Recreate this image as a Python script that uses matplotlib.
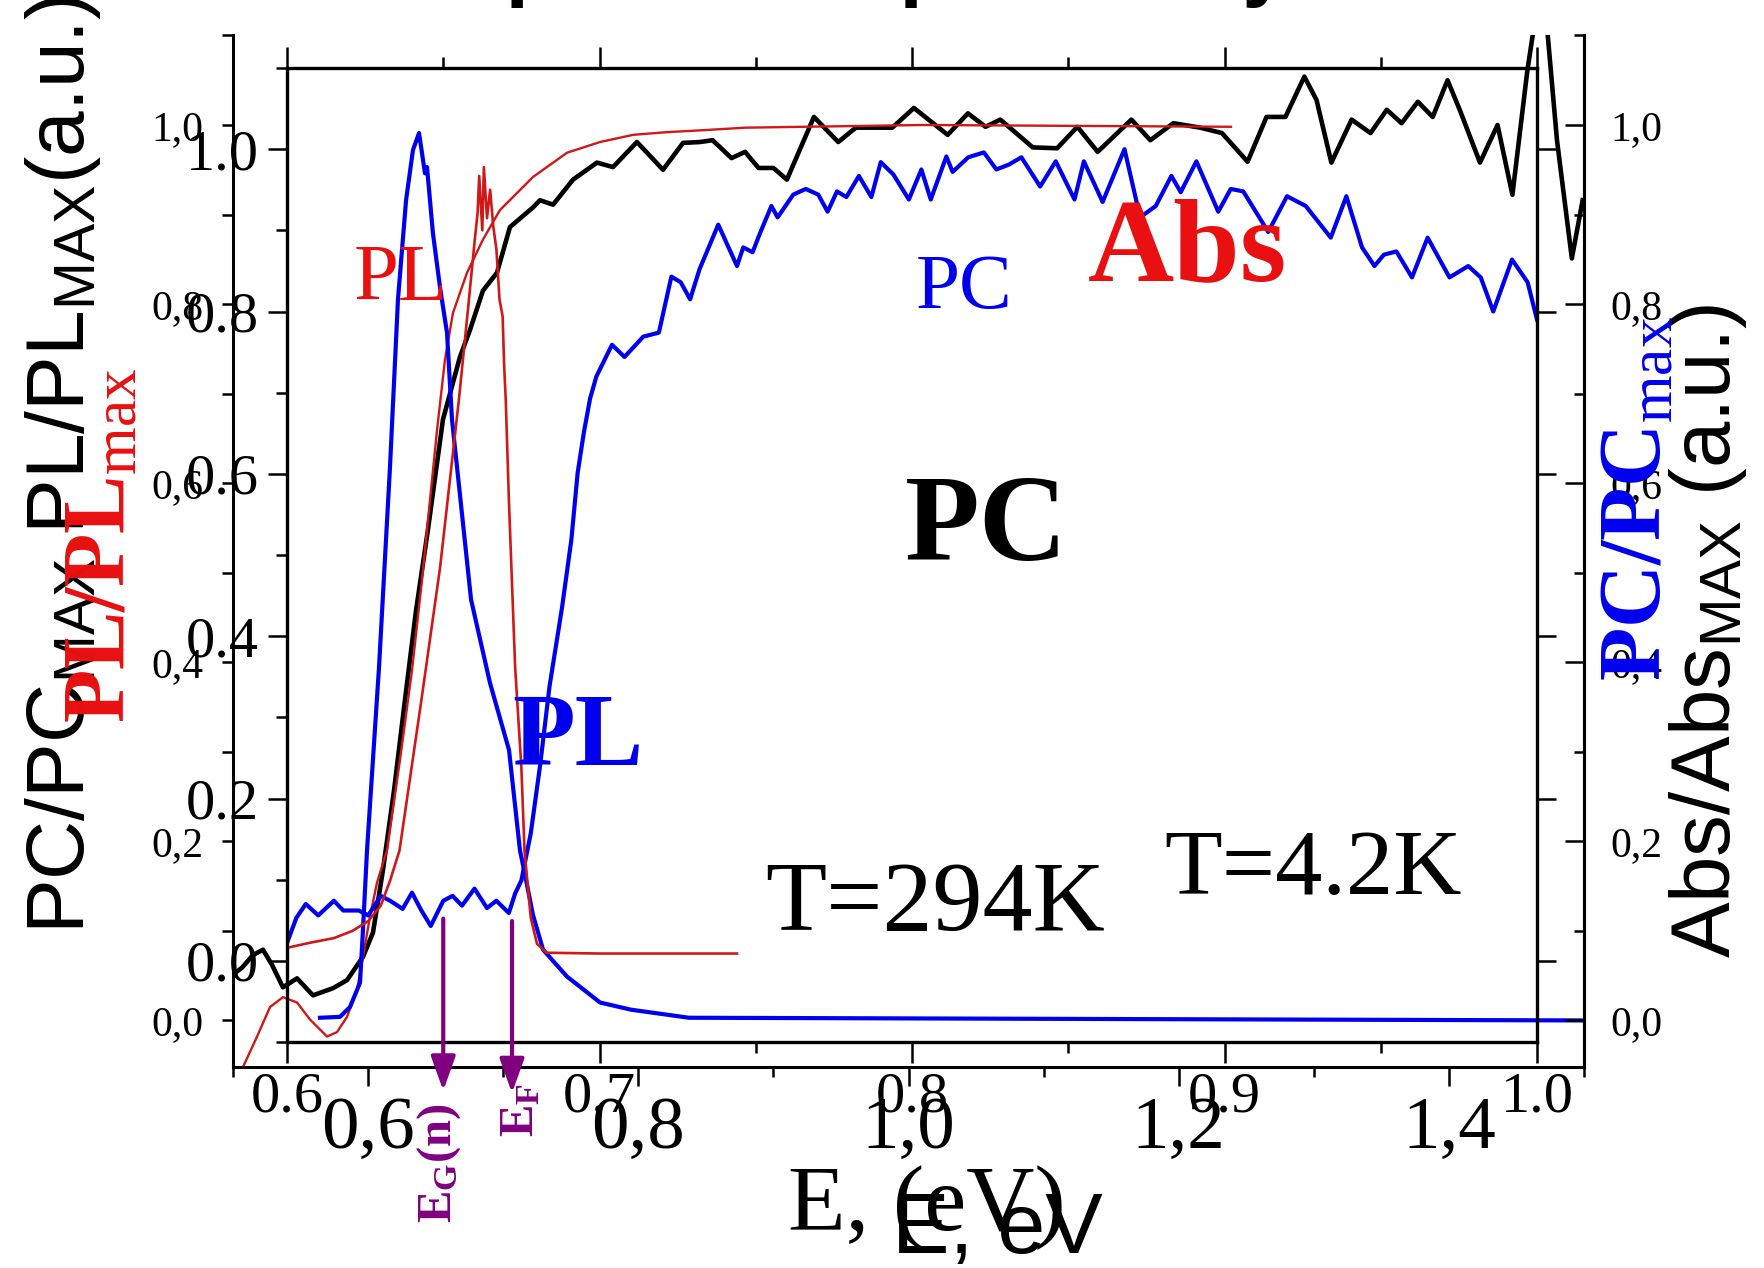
import matplotlib
matplotlib.use('Agg')
import matplotlib.pyplot as plt
from matplotlib.ticker import FixedLocator, FixedFormatter

plt.rcParams['font.family'] = ['Liberation Serif', 'DejaVu Serif']
plt.rcParams['mathtext.fontset'] = 'custom'
plt.rcParams['mathtext.rm'] = 'Liberation Serif'
plt.rcParams['mathtext.it'] = 'Liberation Serif:italic'
plt.rcParams['mathtext.bf'] = 'Liberation Serif:bold'
plt.rcParams['mathtext.sf'] = 'Liberation Sans'

# ---------------- data: outer chart (A), E 0.5-1.5 eV ----------------
abs_black_x = [0.5015, 0.5067, 0.5148, 0.5222, 0.5289, 0.5370, 0.5474, 0.5592, 0.5740, 0.5844,
               0.5962, 0.6036, 0.6110, 0.6192, 0.6273, 0.6355, 0.6443, 0.6554, 0.6680, 0.6754,
               0.6850, 0.6954, 0.7050, 0.7221, 0.7272, 0.7369, 0.7517, 0.7694, 0.7813, 0.7990,
               0.8183, 0.8331, 0.8457, 0.855, 0.869, 0.879, 0.889, 0.900, 0.910, 0.930,
               0.948, 0.961, 0.988, 1.004, 1.029, 1.044, 1.057, 1.068, 1.092, 1.110,
               1.125, 1.140, 1.165, 1.179, 1.196, 1.216, 1.232, 1.251, 1.265, 1.279,
               1.293, 1.302, 1.313, 1.328, 1.342, 1.354, 1.365, 1.377, 1.388, 1.399,
               1.408, 1.423, 1.436, 1.447, 1.458, 1.466, 1.472, 1.480, 1.491, 1.499]
abs_black_y = [0.053, 0.059, 0.073, 0.079, 0.062, 0.037, 0.047, 0.028, 0.036, 0.045,
               0.071, 0.098, 0.168, 0.257, 0.358, 0.458, 0.548, 0.671, 0.741, 0.771,
               0.815, 0.835, 0.886, 0.908, 0.916, 0.911, 0.939, 0.958, 0.953, 0.981,
               0.950, 0.980, 0.981, 0.983, 0.963, 0.970, 0.952, 0.952, 0.939, 1.009,
               0.981, 0.997, 0.997, 1.019, 0.989, 1.013, 0.998, 1.006, 0.975, 0.974,
               0.998, 0.970, 1.006, 0.983, 1.002, 0.997, 0.991, 0.959, 1.009, 1.009,
               1.054, 1.028, 0.958, 1.006, 0.991, 1.017, 1.002, 1.026, 1.009, 1.050,
               1.017, 0.958, 1.000, 0.922, 1.060, 1.140, 1.120, 0.983, 0.851, 0.916]

abs_red_x = [0.5074, 0.5178, 0.5274, 0.5370, 0.5474, 0.5570, 0.5696, 0.5770, 0.5844, 0.5918,
             0.5962, 0.6014, 0.6066, 0.6140, 0.6236, 0.6325, 0.6399, 0.6458, 0.6510, 0.6569,
             0.6628, 0.6732, 0.6850, 0.6976, 0.7221, 0.7472, 0.7717, 0.7961, 0.8212, 0.8457,
             0.8790, 1.0107, 1.2387]
abs_red_y = [-0.052, -0.018, 0.015, 0.026, 0.020, 0.001, -0.018, -0.013, 0.004, 0.034,
             0.071, 0.116, 0.154, 0.190, 0.291, 0.391, 0.492, 0.581, 0.659, 0.738,
             0.790, 0.835, 0.872, 0.905, 0.942, 0.969, 0.981, 0.989, 0.992, 0.994,
             0.997, 1.000, 0.998]

pl_blue_x = [0.5644, 0.5792, 0.5866, 0.5940, 0.5962, 0.5992, 0.6081, 0.6162, 0.6221, 0.6281,
             0.6332, 0.6377, 0.6421, 0.6436, 0.6480, 0.6532, 0.6584, 0.6621, 0.6762, 0.6902,
             0.7043, 0.7124, 0.7169, 0.7220, 0.7295, 0.7472, 0.7717, 0.7946, 0.8375, 1.5]
pl_blue_y = [0.003, 0.004, 0.015, 0.042, 0.101, 0.190, 0.395, 0.618, 0.805, 0.916,
             0.972, 0.991, 0.946, 0.953, 0.879, 0.819, 0.768, 0.671, 0.470, 0.377,
             0.302, 0.190, 0.157, 0.118, 0.079, 0.049, 0.020, 0.012, 0.003, 0.0]

# ---------------- data: inner chart (B), E 0.6-1.0 eV ----------------
pc_blue_x = [0.600, 0.603, 0.606, 0.610, 0.615, 0.618, 0.623, 0.626, 0.630, 0.633,
             0.637, 0.640, 0.643, 0.646, 0.650, 0.653, 0.656, 0.660, 0.664, 0.667,
             0.671, 0.673, 0.675, 0.678, 0.681, 0.684, 0.688, 0.691, 0.693, 0.695,
             0.697, 0.699, 0.704, 0.708, 0.714, 0.719, 0.723, 0.726, 0.729, 0.732,
             0.738, 0.744, 0.746, 0.749, 0.751, 0.755, 0.757, 0.762, 0.766, 0.770,
             0.773, 0.776, 0.779, 0.783, 0.787, 0.790, 0.794, 0.799, 0.803, 0.806,
             0.811, 0.813, 0.818, 0.823, 0.827, 0.831, 0.835, 0.841, 0.846, 0.852,
             0.855, 0.861, 0.868, 0.873, 0.878, 0.883, 0.886, 0.891, 0.898, 0.902,
             0.906, 0.914, 0.920, 0.926, 0.934, 0.939, 0.944, 0.948, 0.951, 0.955,
             0.960, 0.965, 0.972, 0.978, 0.982, 0.986, 0.992, 0.997, 1.000]
pc_blue_y = [0.022, 0.053, 0.070, 0.056, 0.074, 0.062, 0.062, 0.056, 0.080, 0.074,
             0.064, 0.084, 0.062, 0.043, 0.074, 0.080, 0.068, 0.089, 0.065, 0.074,
             0.059, 0.083, 0.099, 0.157, 0.241, 0.338, 0.435, 0.519, 0.601, 0.651,
             0.693, 0.720, 0.759, 0.744, 0.769, 0.774, 0.843, 0.836, 0.815, 0.852,
             0.907, 0.856, 0.879, 0.873, 0.893, 0.930, 0.916, 0.944, 0.951, 0.944,
             0.923, 0.948, 0.941, 0.967, 0.941, 0.984, 0.969, 0.938, 0.975, 0.938,
             0.991, 0.972, 0.990, 0.996, 0.975, 0.981, 0.990, 0.954, 0.985, 0.938,
             0.985, 0.935, 1.000, 0.916, 0.930, 0.967, 0.947, 0.985, 0.923, 0.951,
             0.948, 0.898, 0.942, 0.930, 0.891, 0.942, 0.879, 0.856, 0.870, 0.874,
             0.842, 0.891, 0.842, 0.856, 0.842, 0.800, 0.864, 0.836, 0.790]

pl_red_x = [0.600, 0.607, 0.615, 0.621, 0.626, 0.630, 0.633, 0.636, 0.643, 0.649,
            0.655, 0.658, 0.660, 0.661, 0.6615, 0.6625, 0.663, 0.664, 0.665, 0.666,
            0.667, 0.668, 0.669, 0.6695, 0.670, 0.671, 0.673, 0.675, 0.676, 0.678,
            0.680, 0.683, 0.700, 0.744]
pl_red_y = [0.016, 0.022, 0.028, 0.037, 0.049, 0.068, 0.099, 0.136, 0.321, 0.485,
            0.691, 0.806, 0.885, 0.922, 0.967, 0.900, 0.978, 0.915, 0.950, 0.905,
            0.877, 0.815, 0.794, 0.732, 0.691, 0.568, 0.362, 0.238, 0.136, 0.053,
            0.021, 0.010, 0.009, 0.009]

# arrows (inner chart): E_G(n) and E_F
arrow_x = [0.650, 0.672]
arrow_y_start = [0.052, 0.049]
arrow_y_end = [-0.160, -0.163]

# tick labels
xa_ticks = [0.6, 0.8, 1.0, 1.2, 1.4]
xa_labels = ['0,6', '0,8', '1,0', '1,2', '1,4']
ya_ticks = [0.0, 0.2, 0.4, 0.6, 0.8, 1.0]
ya_labels = ['0,0', '0,2', '0,4', '0,6', '0,8', '1,0']
xb_ticks = [0.6, 0.7, 0.8, 0.9, 1.0]
xb_labels = ['0.6', '0.7', '0.8', '0.9', '1.0']
yb_ticks = [0.0, 0.2, 0.4, 0.6, 0.8, 1.0]
yb_labels = ['0.0', '0.2', '0.4', '0.6', '0.8', '1.0']

BLUE = '#0000EE'
RED_LINE = '#D01818'
RED_TXT = '#E81010'
PURPLE = '#800080'
SANS = 'Liberation Sans'

W, H = 1764, 1268
fig = plt.figure(figsize=(W / 100, H / 100), dpi=100)


def fx(px):
    return px / W


def fy(py):
    return 1 - py / H


# ---------------- outer chart A ----------------
axA = fig.add_axes([fx(233), fy(1067), (1584 - 233) / W, (1067 - 35) / H])
axA.patch.set_alpha(0)
axA.set_xlim(0.5, 1.5)
axA.set_ylim(-0.052, 1.1005)
axA.spines['top'].set_visible(False)
for s in ('left', 'right', 'bottom'):
    axA.spines[s].set_linewidth(2.2)
axA.xaxis.set_major_locator(FixedLocator(xa_ticks))
axA.xaxis.set_major_formatter(FixedFormatter(xa_labels))
axA.xaxis.set_minor_locator(FixedLocator([0.5, 0.7, 0.9, 1.1, 1.3, 1.5]))
axA.yaxis.set_major_locator(FixedLocator(ya_ticks))
axA.yaxis.set_major_formatter(FixedFormatter(ya_labels))
axA.yaxis.set_minor_locator(FixedLocator([0.1, 0.3, 0.5, 0.7, 0.9, 1.1]))
axA.tick_params(axis='x', which='major', direction='out', length=14, width=1.8,
                labelsize=54, pad=7)
axA.tick_params(axis='x', which='minor', direction='out', length=7, width=1.8)
axA.tick_params(axis='y', which='both', direction='out', length=8, width=1.8,
                labelsize=30, pad=13, right=False)

axA.plot(abs_black_x, abs_black_y, color='black', lw=3.3)
axA.plot(abs_red_x, abs_red_y, color=RED_LINE, lw=1.7)
axA.plot(pl_blue_x, pl_blue_y, color=BLUE, lw=3.0)

axAr = axA.twinx()
axAr.set_ylim(-0.052, 1.1005)
for s in ('left', 'top', 'bottom'):
    axAr.spines[s].set_visible(False)
axAr.spines['right'].set_linewidth(2.2)
axAr.yaxis.set_major_locator(FixedLocator(ya_ticks))
axAr.yaxis.set_major_formatter(FixedFormatter(ya_labels))
axAr.yaxis.set_minor_locator(FixedLocator([0.1, 0.3, 0.5, 0.7, 0.9, 1.1]))
axAr.tick_params(axis='y', which='major', direction='in', length=14, width=1.8,
                 labelsize=30, pad=19)
axAr.tick_params(axis='y', which='minor', direction='in', length=7, width=1.8)

# ---------------- inner chart B ----------------
axB = fig.add_axes([fx(287), fy(1042), (1537 - 287) / W, (1042 - 68) / H])
axB.patch.set_alpha(0)
axB.set_xlim(0.6, 1.0)
axB.set_ylim(-0.1, 1.1)
for s in axB.spines.values():
    s.set_linewidth(2.4)
axB.xaxis.set_major_locator(FixedLocator(xb_ticks))
axB.xaxis.set_major_formatter(FixedFormatter(xb_labels))
axB.xaxis.set_minor_locator(FixedLocator([0.65, 0.75, 0.85, 0.95]))
axB.yaxis.set_major_locator(FixedLocator(yb_ticks))
axB.yaxis.set_major_formatter(FixedFormatter(yb_labels))
axB.yaxis.set_minor_locator(FixedLocator([-0.1, 0.1, 0.3, 0.5, 0.7, 0.9, 1.1]))
axB.tick_params(axis='x', which='major', direction='out', length=15, width=1.8,
                labelsize=42, pad=6, top=True)
axB.tick_params(axis='x', which='minor', direction='out', length=8, width=1.8, top=True)
axB.tick_params(axis='y', which='major', direction='out', length=14, width=1.8,
                labelsize=42, pad=6, right=True)
axB.tick_params(axis='y', which='minor', direction='out', length=8, width=1.8,
                right=False)

axB.plot(pc_blue_x, pc_blue_y, color=BLUE, lw=3.0)
axB.plot(pl_red_x, pl_red_y, color=RED_LINE, lw=1.9)

for xa, y0, y1 in zip(arrow_x, arrow_y_start, arrow_y_end):
    axB.annotate('', xy=(xa, y1), xytext=(xa, y0), annotation_clip=False,
                 arrowprops=dict(arrowstyle='-|>,head_length=0.7,head_width=0.25',
                                 color=PURPLE, lw=3, mutation_scale=30,
                                 shrinkA=0, shrinkB=0))

# ---------------- texts ----------------
# title line, almost entirely above the top edge (only descenders visible)
fig.text(fx(450), fy(-9), 'Spectral dependency of InN', ha='left',
         va='baseline', fontsize=60, fontweight='bold', family=SANS)

fig.text(fx(84), fy(934), r'PC/PC$_{\mathsf{MAX}}$ PL/PL$_{\mathsf{MAX}}$(a.u.)',
         family=SANS, fontsize=59, rotation=90, rotation_mode='anchor',
         ha='left', va='baseline')
fig.text(fx(1730), fy(958), r'Abs/Abs$_{\mathsf{MAX}}$ (a.u.)',
         family=SANS, fontsize=60, rotation=90, rotation_mode='anchor',
         ha='left', va='baseline')
fig.text(fx(124), fy(723), r'PL/PL$_{\mathrm{max}}$', color=RED_TXT,
         fontweight='bold', fontsize=63, rotation=90, rotation_mode='anchor',
         ha='left', va='baseline')
fig.text(fx(1660), fy(681), r'PC/PC$_{\mathrm{max}}$', color=BLUE,
         fontweight='bold', fontsize=63, rotation=90, rotation_mode='anchor',
         ha='left', va='baseline')

fig.text(fx(451), fy(1223), r'E$_{\mathbf{G}}$(n)', color=PURPLE, fontweight='bold',
         fontsize=35, rotation=90, rotation_mode='anchor', ha='left', va='baseline')
fig.text(fx(533), fy(1137), r'E$_{\mathbf{F}}$', color=PURPLE, fontweight='bold',
         fontsize=35, rotation=90, rotation_mode='anchor', ha='left', va='baseline')

fig.text(fx(788), fy(1230), 'E, (eV)', fontsize=68, ha='left', va='baseline')
fig.text(fx(892), fy(1253), 'E, eV', family=SANS, fontsize=62, ha='left', va='baseline')

fig.text(fx(354), fy(300), 'PL', color=RED_TXT, fontsize=58, ha='left', va='baseline')
fig.text(fx(916), fy(308), 'PC', color=BLUE, fontsize=57, ha='left', va='baseline')
fig.text(fx(1088), fy(280), 'Abs', color=RED_TXT, fontsize=86, fontweight='bold',
         ha='left', va='baseline')
fig.text(fx(905), fy(560), 'PC', color='black', fontsize=88, fontweight='bold',
         ha='left', va='baseline')
fig.text(fx(512), fy(765), 'PL', color=BLUE, fontsize=74, fontweight='bold',
         ha='left', va='baseline')
fig.text(fx(765), fy(930), 'T=294K', fontsize=72, ha='left', va='baseline')
fig.text(fx(1164), fy(894), 'T=4.2K', fontsize=68, ha='left', va='baseline')

fig.savefig('out.png', dpi=100)
